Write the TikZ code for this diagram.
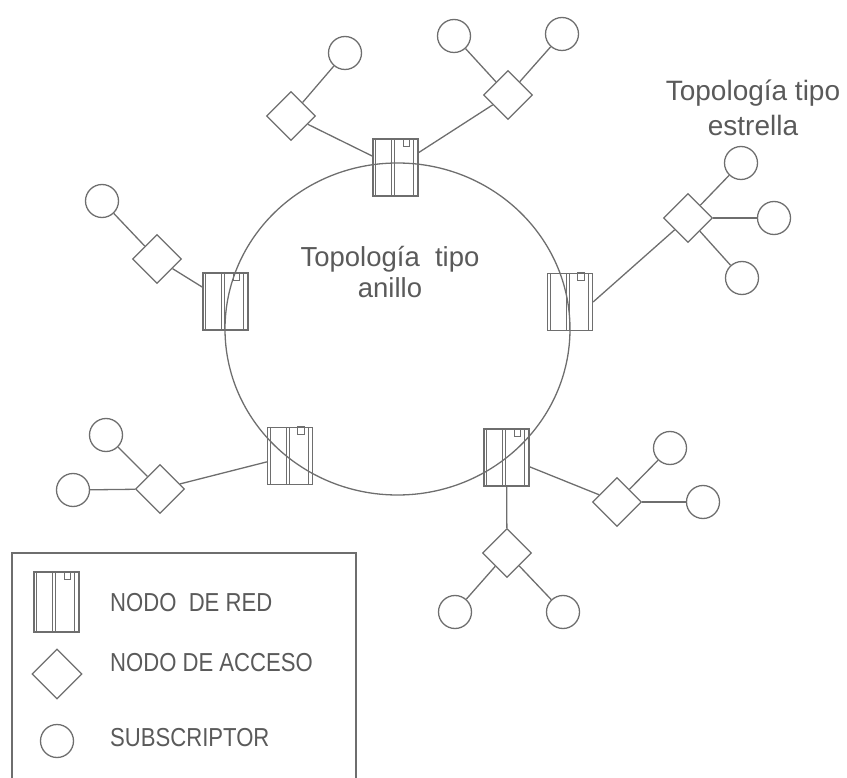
\documentclass[tikz,border=0pt]{standalone}
\usepackage{fontspec}
\setmainfont{Liberation Sans}
\usetikzlibrary{shapes.geometric}
\definecolor{ink}{HTML}{6E6E6E}
\definecolor{txt}{HTML}{5A5A5A}
\tikzset{
  netbox/.style={draw=ink, line width=1.2pt, rectangle, minimum width=45pt, minimum height=57pt, inner sep=0pt},
  access/.style={draw=ink, line width=1.3pt, diamond, minimum width=49pt, minimum height=49pt, inner sep=0pt, aspect=1},
  subs/.style={draw=ink, line width=1.3pt, circle, minimum size=33pt, inner sep=0pt},
  link/.style={draw=ink, line width=1.3pt},
  innerline/.style={draw=ink, line width=0.9pt},
  lbl/.style={text=txt, inner sep=0pt, font=\fontsize{28}{35}\selectfont, align=center},
  leg/.style={text=txt, inner sep=0pt, anchor=base west, font=\fontsize{26}{30}\selectfont},
}
% network node: name, position, extra style
\newcommand\rednode[3][]{%
  \node[netbox,#1] (#2) at #3 {};
  \draw[innerline] ([xshift=3.5pt]#2.north west) -- ([xshift=3.5pt]#2.south west);
  \draw[innerline] ([xshift=19.5pt]#2.north west) -- ([xshift=19.5pt]#2.south west);
  \draw[innerline] ([xshift=22.5pt]#2.north west) -- ([xshift=22.5pt]#2.south west);
  \draw[innerline] ([xshift=41.5pt]#2.north west) -- ([xshift=41.5pt]#2.south west);
  \draw[innerline] ([xshift=31pt]#2.north west) rectangle ([xshift=37.5pt,yshift=-8pt]#2.north west);
}
\begin{document}
\begin{tikzpicture}[x=1pt,y=-1pt]
\useasboundingbox (0,0) rectangle (847,778);
\clip (0,0) rectangle (847,778);

% ring
\draw[link] (397.5,329) ellipse [x radius=172.5pt, y radius=166pt];

% network nodes on the ring
\rednode{nT}{(395.5,167.5)}
\rednode{nL}{(225.5,301.5)}
\rednode{nR}{(570,302)}
\rednode{nBL}{(290,456)}
\rednode{nBR}{(506.5,457.5)}

% access nodes
\node[access] (dTL) at (291,116) {};
\node[access] (dTR) at (508,95) {};
\node[access] (dL)  at (157,259) {};
\node[access] (dR)  at (688,218) {};
\node[access] (dBL) at (160,489) {};
\node[access] (dBR) at (617,502) {};
\node[access] (dB)  at (507,553) {};

% subscribers
\node[subs] (sTL)  at (345,53) {};
\node[subs] (sTR1) at (454,36) {};
\node[subs] (sTR2) at (562,34) {};
\node[subs] (sL)   at (102,201) {};
\node[subs] (sR1)  at (741,163) {};
\node[subs] (sR2)  at (774,218) {};
\node[subs] (sR3)  at (742,278) {};
\node[subs] (sBL1) at (106,435) {};
\node[subs] (sBL2) at (73,490) {};
\node[subs] (sBR1) at (670,448) {};
\node[subs] (sBR2) at (703,502) {};
\node[subs] (sB1)  at (455,612) {};
\node[subs] (sB2)  at (563,612) {};

% links
\draw[link] (nT) -- (dTL);
\draw[link] (nT) -- (dTR);
\draw[link] (nL) -- (dL);
\draw[link] (nR.east) -- (dR);
\draw[link] (nBL) -- (dBL);
\draw[link] (nBR) -- (dBR);
\draw[link] (nBR) -- (dB);

\draw[link] (dTL) -- (sTL);
\draw[link] (dTR) -- (sTR1);
\draw[link] (dTR) -- (sTR2);
\draw[link] (dL) -- (sL);
\draw[link] (dR) -- (sR1);
\draw[link] (dR) -- (sR2);
\draw[link] (dR) -- (sR3);
\draw[link] (dBL) -- (sBL1);
\draw[link] (dBL) -- (sBL2);
\draw[link] (dBR) -- (sBR1);
\draw[link] (dBR) -- (sBR2);
\draw[link] (dB) -- (sB1);
\draw[link] (dB) -- (sB2);

% labels
\node[lbl, font=\fontsize{27.5}{31}\selectfont] (ringlabel) at (390,272) {Topología\ \ tipo\\anillo};
\node[lbl] (starlabel) at (753,108) {Topología tipo\\estrella};

% legend
\draw[ink, line width=1.1pt] (12,790) -- (12,553) -- (356,553) -- (356,790);
\rednode[minimum height=60pt]{legN}{(56.5,602)}
\node[access, minimum width=50pt, minimum height=50pt] (legD) at (57,674) {};
\node[subs] (legS) at (57,741) {};
\node[leg] (legNt) at (110,611) {\scalebox{0.85}[1]{NODO\ \ DE RED}};
\node[leg] (legDt) at (110,671.5) {\scalebox{0.85}[1]{NODO DE ACCESO}};
\node[leg] (legSt) at (110,746.5) {\scalebox{0.85}[1]{SUBSCRIPTOR}};
\end{tikzpicture}
\end{document}
